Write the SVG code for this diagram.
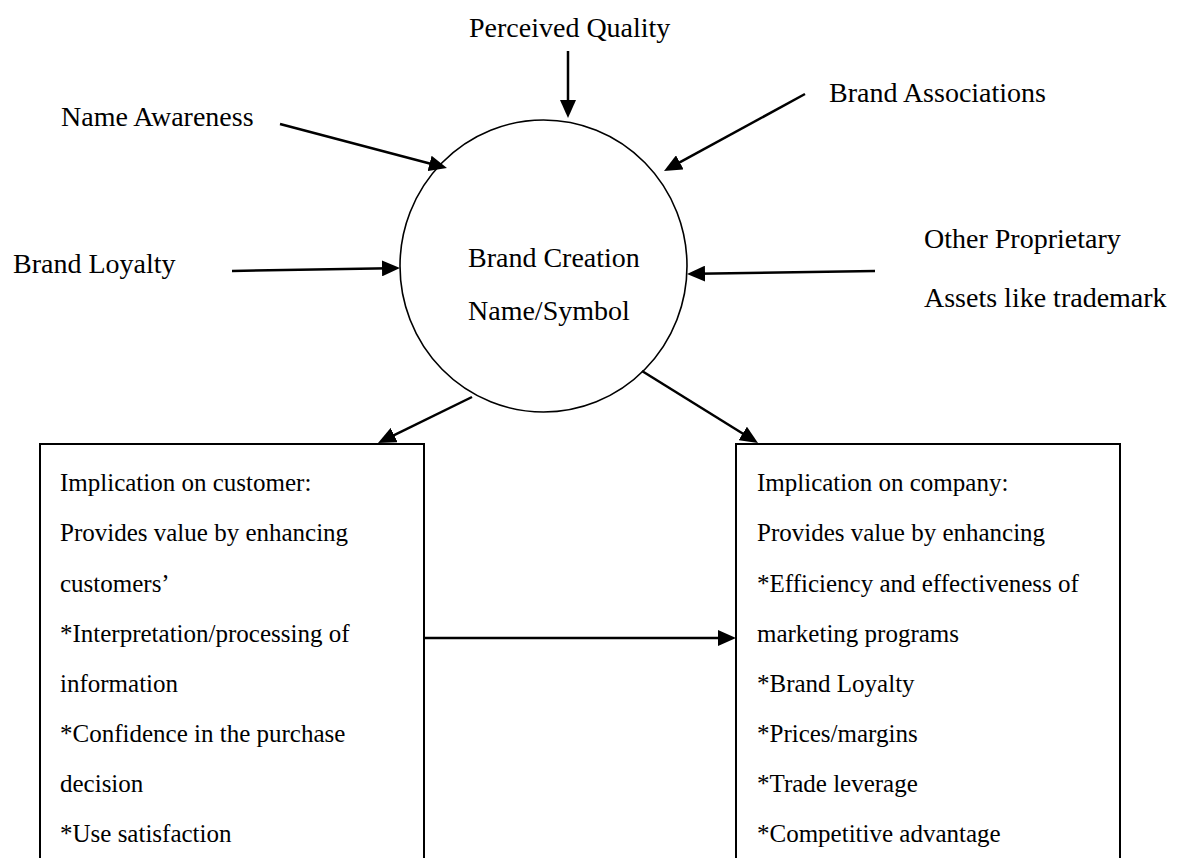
<svg xmlns="http://www.w3.org/2000/svg" width="1182" height="858" viewBox="0 0 1182 858">
  <style>
    text { font-family: "Liberation Serif", "Times New Roman", serif; fill: #000; }
    .lbl { font-size: 28px; }
    .box-text { font-size: 25px; }
    .conn { stroke: #000; stroke-width: 2.5; fill: none; marker-end: url(#head); }
    .shape { fill: #fff; stroke: #000; }
  </style>
  <defs>
    <marker id="head" viewBox="0 0 18 16" refX="8" refY="8" markerWidth="18" markerHeight="16" markerUnits="userSpaceOnUse" orient="auto">
      <path d="M0,0 L18,8 L0,16 z" fill="#000"/>
    </marker>
  </defs>
  <rect width="1182" height="858" fill="#fff"/>

  <!-- central brand node -->
  <g id="brand-creation">
    <ellipse class="shape" cx="543.5" cy="266" rx="143.5" ry="146" stroke-width="1.6"/>
    <text class="lbl" x="468" y="267">Brand Creation</text>
    <text class="lbl" x="468" y="320">Name/Symbol</text>
  </g>

  <!-- input labels -->
  <g id="perceived-quality"><text class="lbl" x="469" y="37">Perceived Quality</text></g>
  <g id="name-awareness"><text class="lbl" x="61" y="126">Name Awareness</text></g>
  <g id="brand-associations"><text class="lbl" x="829" y="102">Brand Associations</text></g>
  <g id="brand-loyalty"><text class="lbl" x="13" y="273">Brand Loyalty</text></g>
  <g id="other-assets">
    <text class="lbl" x="924" y="248">Other Proprietary</text>
    <text class="lbl" x="924" y="307">Assets like trademark</text>
  </g>

  <!-- implication boxes -->
  <g id="customer-box">
    <rect class="shape" x="40" y="444" width="384" height="430" stroke-width="2"/>
    <text class="box-text" x="60" y="491">Implication on customer:</text>
    <text class="box-text" x="60" y="541">Provides value by enhancing</text>
    <text class="box-text" x="60" y="592">customers’</text>
    <text class="box-text" x="60" y="642">*Interpretation/processing of</text>
    <text class="box-text" x="60" y="692">information</text>
    <text class="box-text" x="60" y="742">*Confidence in the purchase</text>
    <text class="box-text" x="60" y="792">decision</text>
    <text class="box-text" x="60" y="842">*Use satisfaction</text>
  </g>
  <g id="company-box">
    <rect class="shape" x="736" y="444" width="384" height="430" stroke-width="2"/>
    <text class="box-text" x="757" y="491">Implication on company:</text>
    <text class="box-text" x="757" y="541">Provides value by enhancing</text>
    <text class="box-text" x="757" y="592">*Efficiency and effectiveness of</text>
    <text class="box-text" x="757" y="642">marketing programs</text>
    <text class="box-text" x="757" y="692">*Brand Loyalty</text>
    <text class="box-text" x="757" y="742">*Prices/margins</text>
    <text class="box-text" x="757" y="792">*Trade leverage</text>
    <text class="box-text" x="757" y="842">*Competitive advantage</text>
  </g>

  <!-- connectors -->
  <g id="connectors">
    <line class="conn" x1="568" y1="51" x2="568" y2="108"/>
    <line class="conn" x1="280" y1="124" x2="437.3" y2="165.5"/>
    <line class="conn" x1="805" y1="94" x2="672.8" y2="166.2"/>
    <line class="conn" x1="232" y1="271" x2="390" y2="268.2"/>
    <line class="conn" x1="875" y1="271" x2="697" y2="273.8"/>
    <line class="conn" x1="472" y1="397" x2="387" y2="438.6"/>
    <line class="conn" x1="642" y1="371" x2="749.5" y2="437.7"/>
    <line class="conn" x1="424" y1="638" x2="726" y2="638"/>
  </g>
</svg>
